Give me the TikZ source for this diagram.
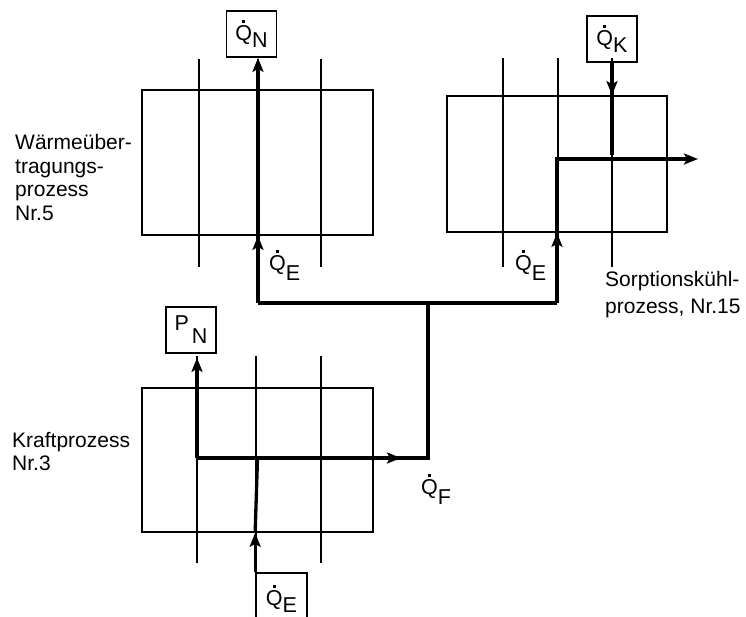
\documentclass[tikz,border=0pt]{standalone}
\usepackage{fontspec}
\setmainfont{Liberation Sans}
\usetikzlibrary{arrows.meta}
\newcommand\Qdot{\leavevmode\rlap{\hspace{7pt}\raisebox{17.5pt}{\rule{3pt}{3pt}}}Q}
\begin{document}
\begin{tikzpicture}[x=1pt,y=-1pt,
  proc/.style={draw, line width=1.7pt, inner sep=0pt},
  gridline/.style={line width=1.7pt},
  flow/.style={line width=3.3pt},
  tip/.style={-{Stealth[length=14pt,width=11pt,inset=3pt]}},
  lab/.style={draw, line width=1.7pt, minimum width=50pt, minimum height=46pt, inner sep=0pt,
    font=\fontsize{21.5}{24}\selectfont},
  txt/.style={anchor=base west, inner sep=0pt, font=\fontsize{21}{24}\selectfont},
  qtxt/.style={anchor=base west, inner sep=0pt, font=\fontsize{21.5}{24}\selectfont}]
\useasboundingbox (0,0) rectangle (746,617);
% process boxes
\node[proc, minimum width=231pt, minimum height=145pt] (TL) at (257.5,162.5) {};
\node[proc, minimum width=220pt, minimum height=136pt] (TR) at (557,164) {};
\node[proc, minimum width=231pt, minimum height=144pt] (BL) at (257.5,460) {};
% grid lines
\foreach \x in {199,258,321} \draw[gridline] (\x,59) -- (\x,267);
\foreach \x in {503,558,612} \draw[gridline] (\x,58) -- (\x,267);
\foreach \x in {197,256,321} \draw[gridline] (\x,356) -- (\x,563);
% label boxes
\node[lab] (QN) at (251.5,34) {\Qdot\raisebox{-7pt}{N}};
\node[lab] (QK) at (612,39) {\Qdot\raisebox{-7pt}{K}};
\node[lab] (PN) at (191,330) {P\hspace{3pt}\raisebox{-13pt}{N}};
\node[lab, minimum width=51pt, minimum height=52pt] (QEb) at (281.5,599) {\raisebox{3pt}{\Qdot\raisebox{-7pt}{E}}};
% junctions
\coordinate (a) at (258,303);
\coordinate (b) at (557,303);
\coordinate (c) at (428,303);
\coordinate (d) at (428,458);
\coordinate (e) at (197,458);
\coordinate (f) at (257.5,458);
\coordinate (g) at (557,159);
\coordinate (h) at (698,159);
\coordinate (m) at (401,458);
% flows
\draw[flow] (a) -- (b);
\draw[flow] (c) -- (d) -- (e);
\draw[flow,tip] (e) -- (m);
\draw[flow,tip] (a) -- (a |- QN.south);
\draw[flow,tip] (a) -- (a |- TL.south);
\draw[flow,tip] (b) -- (g) -- (h);
\draw[flow,tip] (b) -- (b |- TR.south);
\draw[flow] (QK.south) -- (612,155);
\draw[flow,tip] (QK.south) -- (QK.south |- TR.north);
\draw[flow,tip,shorten >=4pt] (e) -- (e |- PN.south);
\coordinate (qb) at (QEb.north west);
\draw[flow] (qb |- BL.south) -- (f);
\draw[flow,tip] (qb) -- (qb |- BL.south);
% flow labels
\node[qtxt] at (269,271) {\Qdot\raisebox{-10pt}{E}};
\node[qtxt] at (515,271) {\Qdot\raisebox{-10pt}{E}};
\node[qtxt] at (421,494) {\Qdot\raisebox{-10pt}{F}};
% process names
\node[txt] at (15,150) {Wärmeüber-};
\node[txt] at (15,173.5) {tragungs-};
\node[txt] at (15,197) {prozess};
\node[txt] at (15,220.5) {Nr.5};
\node[txt] at (12,447) {Kraftprozess};
\node[txt] at (12,470) {Nr.3};
\node[txt] at (605,287) {Sorptionskühl-};
\node[txt] at (605,313) {prozess, Nr.15};
\end{tikzpicture}
\end{document}
